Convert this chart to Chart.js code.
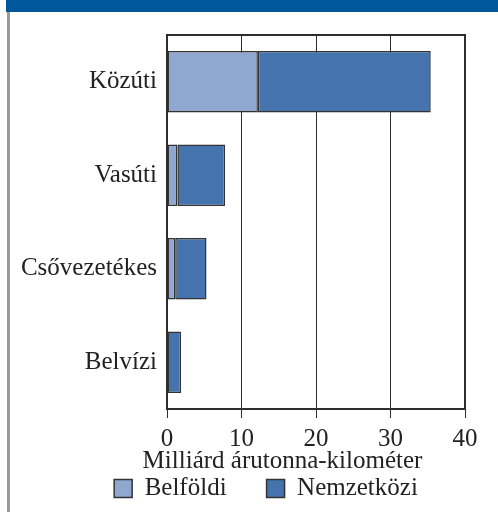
<!DOCTYPE html>
<html>
<head>
<meta charset="utf-8">
<script src="https://cdn.jsdelivr.net/npm/chart.js@4.4.0/dist/chart.umd.min.js"></script>
<style>
html, body { margin: 0; padding: 0; background: #fff; }
#wrap { position: relative; width: 498px; height: 517px; }
#band { position: absolute; left: 6px; top: 0; width: 492px; height: 12px; background: #00579a; }
#rule { position: absolute; left: 7px; top: 12px; width: 3px; height: 500px; background: #9a9a9a; }
canvas { position: absolute; left: 0; top: 0; }
</style>
</head>
<body>
<div id="wrap">
  <canvas id="freightChart" width="498" height="517"></canvas>
  <div id="band"></div>
  <div id="rule"></div>
</div>
<script>
// values (billion tonne-km)
var categories = ['Közúti', 'Vasúti', 'Csővezetékes', 'Belvízi'];
var domesticValues = [12.2, 1.4, 1.1, 0];
var internationalValues = [23.2, 6.4, 4.2, 1.9];
var seriesNames = ['Belföldi', 'Nemzetközi'];
var axisTitle = 'Milliárd árutonna-kilométer';
var xMin = 0, xMax = 40, xStep = 10;

var serifFont = { family: "'Liberation Serif', 'Times New Roman', serif", size: 25 };
var textColor = '#222';
var lineColor = '#2e2e2e';
var legendGap = 40;

// frame round the plot area, legend takes no layout room, title/legend placed like the original
var frameBorder = {
    id: 'frameBorder',
    beforeLayout(chart) {
        const lg = chart.legend;
        if (lg && !lg._compact) {
            const origFit = lg.fit;
            lg.fit = function() {
                origFit.call(this);
                this.height = 0;
            };
            lg._compact = true;
        }
    },
    afterLayout(chart) {
        if (chart.titleBlock) {
            chart.titleBlock.left = 100;
            chart.titleBlock.right = 465;
            chart.titleBlock.top = 446;
            chart.titleBlock.bottom = 476;
        }
        if (chart.legend) {
            chart.legend.left = 66;
            chart.legend.right = 466;
            chart.legend.top = 436;
            chart.legend.bottom = 517;
            chart.legend.height = 81;
        }
    },
    afterDraw(chart) {
        const { ctx, chartArea: { left, right, top, bottom } } = chart;
        ctx.save();
        ctx.strokeStyle = lineColor;
        ctx.lineWidth = 2;
        ctx.strokeRect(left, top, right - left, bottom - top);
        ctx.restore();
    }
};

new Chart(document.getElementById('freightChart'), {
    type: 'bar',
    data: {
        labels: categories,
        datasets: [{
            label: seriesNames[0],
            data: domesticValues,
            backgroundColor: '#8ea8cf',
            borderColor: '#333',
            borderWidth: 1.5,
            borderSkipped: false,
            barPercentage: 0.66,
            categoryPercentage: 1
        }, {
            label: seriesNames[1],
            data: internationalValues,
            backgroundColor: '#4473ae',
            borderColor: '#333',
            borderWidth: 1.5,
            borderSkipped: false,
            barPercentage: 0.66,
            categoryPercentage: 1
        }]
    },
    options: {
        indexAxis: 'y',
        responsive: false,
        animation: false,
        devicePixelRatio: 1,
        layout: { padding: { top: 35, right: 33, left: 0, bottom: 32 } },
        scales: {
            x: {
                stacked: true,
                min: xMin,
                max: xMax,
                ticks: { stepSize: xStep, font: serifFont, color: textColor, padding: 6 },
                grid: { color: lineColor, lineWidth: 1, tickLength: 9, drawTicks: true },
                border: { display: false },
                afterFit(scale) { scale.height = 46; }
            },
            y: {
                stacked: true,
                ticks: { font: serifFont, color: textColor, padding: 2 },
                grid: { display: false },
                border: { display: false },
                afterFit(scale) { scale.width = 167; }
            }
        },
        plugins: {
            title: {
                display: true,
                position: 'bottom',
                text: axisTitle,
                font: Object.assign({ weight: 'normal' }, serifFont),
                color: textColor,
                padding: { top: 0, bottom: 0 }
            },
            legend: {
                position: 'bottom',
                weight: 3000,
                labels: {
                    font: serifFont,
                    color: textColor,
                    boxWidth: 18,
                    boxHeight: 18,
                    padding: legendGap
                }
            },
            tooltip: { enabled: false }
        }
    },
    plugins: [frameBorder]
});
</script>
</body>
</html>
